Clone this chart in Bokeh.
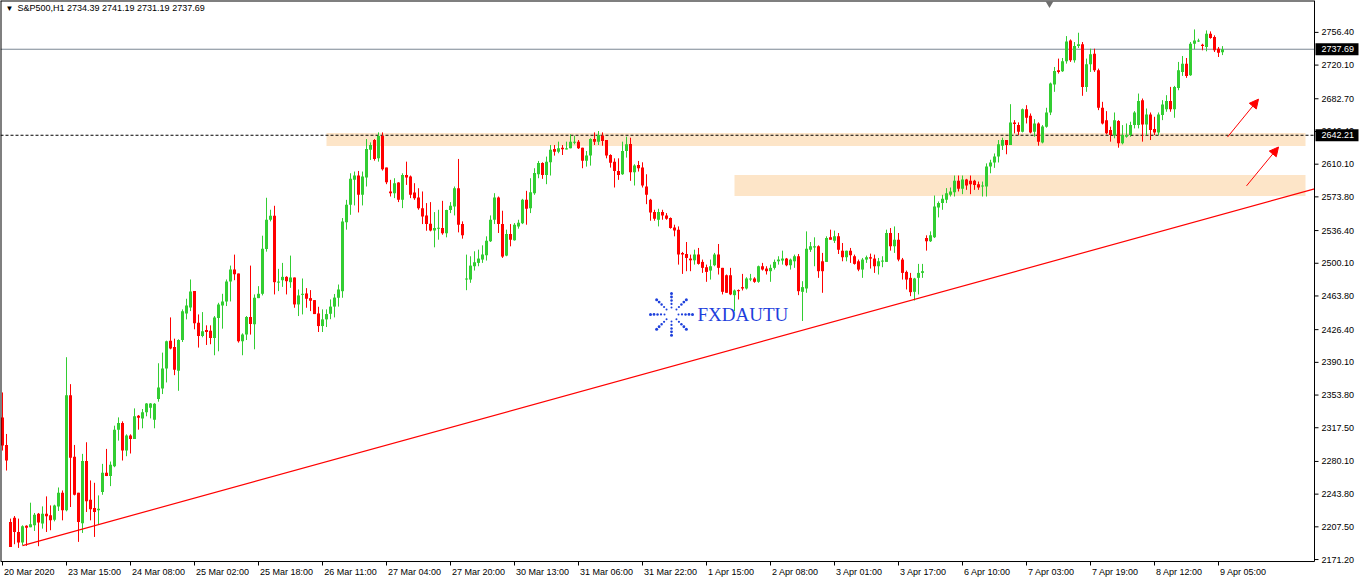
import math
import numpy as np
from bokeh.plotting import figure
from bokeh.models import (Range1d, FixedTicker, Label, Arrow, NormalHead, ColumnDataSource)
from bokeh.core.properties import value
from bokeh.embed import file_html
from bokeh.resources import INLINE

FONT = "Liberation Sans"

# ---------------- data (S&P500, H1) ----------------
opens = [
    2329.0, 2298.4, 2212.9, 2217.7, 2201.8, 2190.0, 2208.8, 2207.0, 2209.2, 2222.1,
    2211.1, 2222.1, 2220.3, 2215.5, 2230.2, 2245.3, 2225.8, 2353.7, 2285.2, 2245.3,
    2211.4, 2280.7, 2237.6, 2228.4, 2225.8, 2246.1, 2267.5, 2263.8, 2274.8, 2315.4,
    2322.8, 2292.2, 2308.8, 2305.1, 2330.9, 2327.9, 2334.6, 2339.7, 2326.5, 2349.3,
    2361.1, 2383.2, 2414.2, 2407.2, 2380.7, 2415.0, 2444.4, 2451.1, 2469.2, 2434.1,
    2419.4, 2426.0, 2425.3, 2417.2, 2439.3, 2453.3, 2457.7, 2479.8, 2493.1, 2488.7,
    2413.5, 2420.9, 2440.4, 2432.3, 2461.4, 2466.2, 2516.0, 2548.4, 2552.8, 2479.1,
    2481.3, 2485.0, 2479.1, 2484.3, 2454.4, 2465.1, 2466.6, 2461.4, 2459.2, 2444.4,
    2430.4, 2437.8, 2444.0, 2452.0, 2461.8, 2469.1, 2545.5, 2565.0, 2592.7, 2597.5,
    2576.1, 2595.2, 2626.2, 2636.9, 2616.6, 2641.3, 2606.3, 2579.8, 2577.9, 2589.7,
    2570.5, 2598.2, 2596.3, 2578.6, 2573.1, 2561.3, 2553.2, 2544.0, 2536.6, 2539.2,
    2539.2, 2533.3, 2559.1, 2563.2, 2583.4, 2543.6, 2482.0, 2482.0, 2496.8, 2500.5,
    2504.2, 2509.0, 2524.4, 2548.4, 2573.1, 2543.6, 2508.6, 2532.6, 2525.6, 2541.0,
    2544.4, 2570.5, 2561.3, 2577.9, 2598.9, 2611.5, 2598.2, 2612.2, 2627.0, 2624.0,
    2628.4, 2627.0, 2627.7, 2634.3, 2635.1, 2628.4, 2614.0, 2619.6, 2638.0, 2635.1,
    2641.7, 2636.9, 2620.3, 2612.9, 2602.6, 2598.9, 2624.7, 2632.5, 2601.1, 2609.3,
    2606.3, 2585.3, 2570.5, 2556.9, 2548.4, 2556.9, 2553.2, 2550.3, 2539.9, 2537.4,
    2511.6, 2510.4, 2505.3, 2503.4, 2509.7, 2501.6, 2495.7, 2492.0, 2497.9, 2509.7,
    2495.0, 2486.8, 2486.8, 2464.7, 2470.3, 2473.6, 2472.1, 2482.0, 2483.2, 2479.5,
    2496.8, 2494.2, 2491.3, 2495.0, 2502.3, 2503.1, 2505.3, 2497.9, 2502.3, 2507.9,
    2468.4, 2472.1, 2515.2, 2517.8, 2518.9, 2502.3, 2501.6, 2528.9, 2525.2, 2530.0,
    2514.1, 2506.8, 2514.1, 2507.9, 2502.3, 2493.1, 2504.2, 2506.8, 2505.3, 2496.8,
    2502.3, 2501.6, 2533.7, 2518.9, 2526.3, 2504.2, 2490.5, 2483.9, 2468.4, 2483.9,
    2489.4, 2528.1, 2524.5, 2528.9, 2562.1, 2566.9, 2570.5, 2576.1, 2579.0, 2591.6,
    2582.7, 2593.0, 2591.6, 2591.6, 2587.9, 2585.3, 2585.3, 2607.4, 2612.0, 2618.5,
    2630.6, 2636.9, 2631.4, 2656.5, 2653.5, 2646.1, 2671.2, 2663.8, 2646.1, 2655.3,
    2634.3, 2651.7, 2667.5, 2698.5, 2714.3, 2713.2, 2724.3, 2747.5, 2725.4, 2741.3,
    2743.1, 2695.9, 2721.0, 2732.8, 2714.3, 2672.7, 2659.0, 2648.0, 2642.4, 2657.9,
    2633.2, 2640.6, 2642.4, 2653.5, 2653.5, 2681.2, 2654.2, 2665.3, 2649.1, 2645.4,
    2664.6, 2671.2, 2680.1, 2671.2, 2694.8, 2712.5, 2721.7, 2708.8, 2743.8, 2747.2,
    2742.7, 2740.2, 2754.9, 2751.2, 2738.3, 2734.39,
]
highs = [
    2356.7, 2310.6, 2216.6, 2219.5, 2216.6, 2209.2, 2209.2, 2234.3, 2222.9, 2222.9,
    2230.2, 2241.3, 2231.3, 2232.1, 2251.2, 2247.9, 2395.8, 2365.9, 2298.4, 2245.3,
    2288.5, 2301.4, 2259.0, 2256.4, 2242.4, 2277.4, 2294.0, 2280.0, 2319.8, 2329.0,
    2324.6, 2310.2, 2310.2, 2339.0, 2331.6, 2338.3, 2344.9, 2344.9, 2344.9, 2389.1,
    2400.9, 2414.2, 2440.0, 2416.4, 2415.7, 2448.9, 2460.7, 2482.1, 2469.2, 2443.3,
    2445.9, 2431.2, 2431.2, 2441.5, 2456.2, 2466.2, 2482.1, 2497.5, 2509.7, 2488.7,
    2422.3, 2441.5, 2497.5, 2465.5, 2474.7, 2530.7, 2572.8, 2559.5, 2563.9, 2493.9,
    2500.5, 2485.7, 2508.6, 2484.3, 2471.0, 2483.2, 2472.5, 2470.3, 2459.2, 2451.8,
    2448.9, 2448.9, 2460.0, 2466.0, 2476.5, 2550.3, 2570.5, 2600.0, 2601.9, 2602.6,
    2601.9, 2638.0, 2634.3, 2638.0, 2645.4, 2645.4, 2606.3, 2592.7, 2594.5, 2590.1,
    2600.0, 2612.9, 2597.5, 2589.0, 2583.4, 2579.8, 2566.9, 2568.0, 2556.9, 2559.5,
    2569.4, 2559.5, 2568.0, 2585.3, 2615.9, 2546.6, 2509.7, 2507.9, 2513.4, 2515.2,
    2520.0, 2530.0, 2553.2, 2577.9, 2574.2, 2558.4, 2537.4, 2543.6, 2544.7, 2548.4,
    2571.6, 2580.5, 2594.5, 2605.6, 2613.7, 2612.2, 2618.5, 2631.4, 2631.4, 2635.1,
    2631.4, 2635.1, 2643.2, 2641.7, 2636.9, 2628.4, 2624.7, 2638.8, 2645.4, 2646.9,
    2645.4, 2636.9, 2621.1, 2616.6, 2616.6, 2635.1, 2640.6, 2639.5, 2610.0, 2613.7,
    2612.2, 2598.9, 2571.6, 2559.5, 2560.6, 2559.5, 2555.8, 2551.0, 2542.9, 2541.0,
    2512.7, 2523.7, 2509.7, 2515.2, 2517.1, 2504.2, 2498.6, 2504.2, 2511.6, 2521.5,
    2495.0, 2487.6, 2495.0, 2471.0, 2471.0, 2488.3, 2484.6, 2488.3, 2484.6, 2497.5,
    2500.5, 2496.8, 2498.6, 2504.2, 2507.9, 2514.1, 2506.0, 2505.3, 2509.7, 2510.4,
    2480.2, 2535.5, 2523.7, 2528.9, 2520.0, 2511.6, 2530.0, 2537.4, 2536.3, 2533.7,
    2522.6, 2514.1, 2517.1, 2509.7, 2504.2, 2506.0, 2508.6, 2510.8, 2509.7, 2506.0,
    2507.9, 2537.4, 2539.2, 2541.0, 2533.7, 2506.0, 2492.0, 2489.4, 2483.9, 2499.4,
    2499.4, 2531.1, 2535.5, 2575.3, 2568.7, 2576.1, 2583.5, 2584.2, 2597.5, 2597.5,
    2597.5, 2593.8, 2597.5, 2592.7, 2590.8, 2590.8, 2611.0, 2615.0, 2622.0, 2636.9,
    2639.5, 2636.9, 2676.7, 2659.0, 2656.5, 2671.9, 2675.6, 2666.4, 2660.1, 2656.5,
    2653.5, 2672.7, 2700.7, 2718.0, 2727.3, 2728.0, 2752.3, 2748.6, 2745.7, 2756.0,
    2745.7, 2727.3, 2738.3, 2738.3, 2716.2, 2679.3, 2669.0, 2651.7, 2667.5, 2659.0,
    2653.5, 2655.3, 2657.2, 2669.0, 2688.5, 2683.0, 2671.9, 2667.5, 2662.7, 2667.5,
    2681.2, 2686.7, 2695.9, 2697.0, 2723.6, 2730.2, 2728.0, 2745.7, 2759.7, 2749.4,
    2743.8, 2758.6, 2757.5, 2753.1, 2740.2, 2741.19,
]
lows = [
    2292.2, 2270.0, 2185.2, 2188.2, 2184.1, 2187.1, 2186.4, 2207.0, 2202.9, 2186.0,
    2205.5, 2201.8, 2203.7, 2213.6, 2225.1, 2214.7, 2224.7, 2229.5, 2242.4, 2190.8,
    2200.7, 2224.0, 2214.7, 2196.3, 2210.0, 2243.1, 2263.8, 2252.7, 2273.7, 2303.2,
    2281.1, 2285.9, 2288.9, 2305.1, 2315.4, 2316.9, 2330.2, 2327.9, 2316.9, 2346.4,
    2354.9, 2367.8, 2404.6, 2375.9, 2358.5, 2412.7, 2437.8, 2447.0, 2426.8, 2406.5,
    2417.9, 2409.4, 2410.2, 2398.0, 2402.4, 2427.5, 2452.6, 2457.7, 2481.3, 2412.0,
    2398.0, 2414.9, 2420.9, 2404.6, 2461.4, 2464.4, 2513.0, 2546.6, 2465.5, 2469.2,
    2473.9, 2465.5, 2472.8, 2450.7, 2441.5, 2443.3, 2450.7, 2447.0, 2443.7, 2423.8,
    2423.8, 2429.3, 2438.0, 2440.0, 2452.0, 2461.8, 2537.4, 2553.9, 2564.3, 2556.5,
    2564.3, 2585.3, 2614.8, 2614.0, 2612.9, 2603.0, 2587.9, 2574.2, 2572.4, 2568.0,
    2561.3, 2587.1, 2572.4, 2570.5, 2559.5, 2543.6, 2536.2, 2535.5, 2517.8, 2526.3,
    2531.8, 2528.9, 2555.8, 2553.2, 2534.4, 2527.4, 2470.2, 2478.4, 2492.0, 2496.8,
    2500.5, 2503.1, 2523.7, 2543.6, 2533.7, 2506.0, 2507.9, 2518.9, 2525.2, 2538.5,
    2543.6, 2542.9, 2555.8, 2576.1, 2594.5, 2593.8, 2587.9, 2597.5, 2619.6, 2622.2,
    2620.3, 2626.6, 2627.7, 2632.1, 2627.0, 2605.6, 2607.4, 2608.5, 2631.4, 2631.4,
    2630.6, 2616.6, 2606.3, 2584.2, 2592.7, 2598.2, 2617.4, 2591.6, 2586.4, 2601.9,
    2584.2, 2565.7, 2547.3, 2547.3, 2541.0, 2548.4, 2548.4, 2538.5, 2530.0, 2498.6,
    2488.3, 2491.3, 2491.3, 2498.6, 2498.6, 2489.4, 2479.5, 2482.0, 2496.8, 2487.6,
    2465.5, 2467.3, 2464.7, 2447.0, 2459.9, 2469.9, 2471.0, 2480.2, 2478.4, 2478.4,
    2492.0, 2487.6, 2479.5, 2493.1, 2498.6, 2498.6, 2496.8, 2493.1, 2495.0, 2464.7,
    2436.0, 2467.3, 2512.7, 2496.8, 2483.9, 2467.3, 2501.6, 2526.3, 2522.6, 2510.4,
    2502.3, 2502.3, 2500.5, 2498.6, 2491.3, 2483.9, 2500.5, 2494.2, 2489.4, 2487.6,
    2495.7, 2501.6, 2514.1, 2511.6, 2502.3, 2482.0, 2471.0, 2463.6, 2458.8, 2465.5,
    2483.9, 2514.1, 2523.7, 2528.1, 2551.0, 2559.5, 2566.9, 2574.2, 2574.2, 2579.8,
    2576.8, 2581.6, 2576.8, 2581.6, 2581.6, 2574.2, 2574.2, 2600.0, 2606.0, 2612.0,
    2625.9, 2621.1, 2631.4, 2644.3, 2642.4, 2645.4, 2655.3, 2644.3, 2640.6, 2630.6,
    2633.2, 2650.6, 2664.6, 2690.4, 2710.7, 2712.5, 2721.7, 2723.6, 2722.8, 2739.1,
    2686.0, 2690.4, 2712.5, 2712.5, 2670.1, 2654.2, 2643.2, 2635.1, 2638.8, 2628.4,
    2632.1, 2639.5, 2640.6, 2649.8, 2649.8, 2635.1, 2642.4, 2636.9, 2642.4, 2642.4,
    2659.0, 2668.3, 2668.3, 2661.6, 2692.2, 2708.1, 2705.9, 2708.1, 2737.6, 2745.7,
    2736.5, 2735.4, 2749.4, 2734.6, 2729.1, 2731.19,
]
closes = [
    2297.7, 2281.1, 2185.2, 2201.8, 2190.0, 2208.1, 2206.6, 2210.3, 2221.0, 2212.2,
    2222.1, 2219.2, 2214.7, 2231.3, 2245.3, 2225.8, 2353.7, 2284.1, 2243.1, 2212.9,
    2280.7, 2235.8, 2226.9, 2224.0, 2227.7, 2267.5, 2263.8, 2276.3, 2315.4, 2322.8,
    2292.2, 2308.8, 2305.1, 2330.2, 2328.7, 2334.6, 2344.5, 2344.5, 2344.2, 2362.2,
    2383.2, 2413.5, 2405.4, 2381.8, 2415.0, 2446.7, 2453.3, 2468.8, 2433.4, 2419.4,
    2424.5, 2423.8, 2417.2, 2440.0, 2454.4, 2457.7, 2479.8, 2493.1, 2488.0, 2413.5,
    2420.9, 2440.4, 2432.6, 2461.8, 2466.2, 2516.3, 2548.4, 2552.8, 2479.1, 2479.8,
    2485.0, 2480.2, 2484.3, 2454.4, 2464.4, 2466.2, 2460.7, 2458.5, 2443.7, 2430.4,
    2437.8, 2443.7, 2452.0, 2462.0, 2471.0, 2546.6, 2565.0, 2593.8, 2597.5, 2576.1,
    2596.3, 2627.0, 2631.4, 2615.9, 2641.3, 2604.5, 2590.1, 2577.9, 2589.0, 2570.5,
    2598.2, 2595.2, 2576.1, 2572.4, 2561.3, 2552.1, 2543.6, 2536.6, 2539.2, 2539.6,
    2533.3, 2559.1, 2563.9, 2583.4, 2542.9, 2531.1, 2483.2, 2497.5, 2501.2, 2505.3,
    2509.7, 2525.2, 2548.4, 2573.1, 2543.6, 2507.5, 2532.6, 2526.3, 2542.9, 2545.1,
    2570.5, 2560.6, 2579.0, 2600.4, 2611.5, 2598.2, 2612.9, 2626.2, 2624.0, 2627.7,
    2626.6, 2627.7, 2635.1, 2635.1, 2627.7, 2614.0, 2619.6, 2638.0, 2635.1, 2642.4,
    2635.8, 2619.6, 2611.8, 2602.6, 2598.2, 2624.7, 2632.1, 2601.1, 2608.5, 2605.6,
    2586.4, 2576.1, 2556.5, 2549.5, 2556.9, 2553.2, 2549.5, 2539.2, 2536.6, 2509.7,
    2509.7, 2506.0, 2503.4, 2509.7, 2499.4, 2495.0, 2490.5, 2496.8, 2509.7, 2495.0,
    2468.4, 2467.3, 2465.5, 2469.9, 2469.1, 2472.1, 2483.2, 2483.2, 2479.5, 2496.8,
    2493.1, 2491.3, 2495.0, 2501.6, 2504.2, 2505.3, 2497.9, 2504.2, 2507.9, 2469.1,
    2473.6, 2516.3, 2518.9, 2518.9, 2491.3, 2491.3, 2528.1, 2526.3, 2530.0, 2515.2,
    2506.8, 2514.1, 2509.0, 2499.4, 2493.1, 2504.2, 2506.8, 2505.3, 2496.8, 2502.3,
    2503.1, 2533.7, 2518.9, 2526.3, 2504.2, 2489.4, 2482.0, 2468.0, 2483.2, 2489.4,
    2491.3, 2524.5, 2531.1, 2563.2, 2566.9, 2571.7, 2577.9, 2579.8, 2591.6, 2582.7,
    2593.0, 2586.4, 2587.9, 2587.1, 2584.2, 2586.4, 2607.4, 2612.0, 2618.5, 2632.1,
    2636.9, 2631.4, 2656.5, 2654.6, 2646.1, 2671.2, 2661.6, 2645.4, 2655.3, 2635.1,
    2652.0, 2667.5, 2699.6, 2713.6, 2712.5, 2724.3, 2746.4, 2725.4, 2741.3, 2743.1,
    2695.9, 2721.0, 2732.0, 2714.3, 2672.7, 2655.3, 2644.3, 2642.4, 2659.0, 2633.2,
    2642.4, 2642.4, 2653.5, 2667.5, 2680.1, 2654.2, 2665.3, 2648.0, 2645.4, 2665.3,
    2676.4, 2680.1, 2671.2, 2695.9, 2714.3, 2721.7, 2708.1, 2743.8, 2747.5, 2747.5,
    2741.3, 2754.9, 2750.1, 2736.5, 2733.9, 2737.69,
]

x_tick_bars = [0, 16, 32, 48, 64, 80, 96, 112, 128, 144,
               160, 176, 192, 208, 224, 240, 256, 272, 288, 304]
x_tick_labels = ["20 Mar 2020", "23 Mar 15:00", "24 Mar 08:00", "25 Mar 02:00",
                 "25 Mar 18:00", "26 Mar 11:00", "27 Mar 04:00", "27 Mar 20:00",
                 "30 Mar 13:00", "31 Mar 06:00", "31 Mar 22:00", "1 Apr 15:00",
                 "2 Apr 08:00", "3 Apr 01:00", "3 Apr 17:00", "6 Apr 10:00",
                 "7 Apr 03:00", "7 Apr 19:00", "8 Apr 12:00", "9 Apr 05:00"]
y_ticks = [2171.20, 2207.50, 2243.80, 2280.10, 2317.50, 2353.80, 2390.10,
           2426.40, 2463.80, 2500.10, 2536.40, 2573.80, 2610.10, 2646.40,
           2682.70, 2720.10, 2756.40]

symbol_header = "S&P500,H1  2734.39 2741.19 2731.19 2737.69"
last_price = 2737.69
level_price = 2642.21
zone_left = [81.0, 183.0]
zone_right = [325.75, 325.75]
zone_bottom = [2630.3, 2574.9]
zone_top = [2644.6, 2598.2]
trend_x = [5.0, 328.0]
trend_y = [2186.7, 2582.6]
arrow_x0 = [306.25, 311.0]
arrow_y0 = [2640.2, 2586.0]
arrow_x1 = [314.0, 319.0]
arrow_y1 = [2682.3, 2629.2]
watermark_text = "FXDAUTU"
watermark_x = 173.75
watermark_y = 2443.3
logo_x = 167.25

# ---------------- layout ----------------
W, H = 1360, 579
CHART_PX = 1314            # width of the chart area (price scale strip to its right)
X_LO, X_CHART = -0.5, 328.0
PPB = CHART_PX / (X_CHART - X_LO)          # pixels per bar (= 4)
X_HI = X_LO + W / PPB                      # frame also covers the price-scale strip
Y_BORDER, Y_HI = 2169.0, 2791.8            # bottom / top edge of the chart box
PPY = 563.0 / (Y_HI - Y_BORDER)            # pixels per price unit
FRAME_H = 568.0                            # frame reaches a little below the chart box
Y_LO = Y_HI - FRAME_H / PPY
UP, DN = "#32CD32", "#FF0000"
FS = 9

p = figure(width=W, height=H, x_range=Range1d(X_LO, X_HI), y_range=Range1d(Y_LO, Y_HI),
           output_backend="svg", toolbar_location=None, y_axis_location=None,
           min_border_left=0, min_border_top=0, min_border_right=0, min_border_bottom=10)
p.grid.visible = False
p.outline_line_color = None
p.background_fill_color = "white"
p.border_fill_color = "white"

# x axis: labels left-aligned to their tick (MT4 style) -> centre shifted right
CHAR_EM = {" ": 0.278, ":": 0.278, "M": 0.833, "a": 0.556, "r": 0.333, "A": 0.667, "p": 0.556}
label_pos = []
for b, s in zip(x_tick_bars, x_tick_labels):
    wpx = sum(CHAR_EM.get(ch, 0.556) for ch in s) * FS
    label_pos.append(round(b + (wpx / 2 + 1.5) / PPB, 3))
xa = p.xaxis[0]
xa.ticker = FixedTicker(ticks=label_pos)
xa.major_label_overrides = {v: s for v, s in zip(label_pos, x_tick_labels)}
xa.axis_line_color = None
xa.major_tick_line_color = None
xa.minor_tick_line_color = None
xa.major_tick_out = 0
xa.major_tick_in = 0
xa.minor_tick_out = 0
xa.minor_tick_in = 0
xa.major_label_standoff = 0
xa.axis_label_standoff = 0
xa.major_label_text_font = FONT
xa.major_label_text_font_size = f"{FS}px"
xa.major_label_text_color = "black"

# support / resistance zones (background)
p.quad(left=zone_left, right=zone_right, bottom=zone_bottom, top=zone_top,
       fill_color="#FDE5C8", line_color=None)

# horizontal levels (chart area only)
p.segment(x0=[X_LO], y0=[level_price], x1=[X_CHART], y1=[level_price],
          line_color="black", line_dash="3 2", line_width=1)
p.segment(x0=[X_LO], y0=[last_price], x1=[X_CHART], y1=[last_price],
          line_color="#7A8793", line_width=1)

# candles
o = np.array(opens); h = np.array(highs); l = np.array(lows); c = np.array(closes)
body_top = np.maximum(o, c)
body_bot = np.minimum(o, c)
body_bot = np.where(body_top - body_bot < 1.2, body_top - 1.2, body_bot)
colors = [UP if cc >= oo else DN for oo, cc in zip(opens, closes)]
src = ColumnDataSource(dict(x=list(range(len(opens))), top=body_top, bottom=body_bot,
                            high=np.maximum(h, body_top), low=np.minimum(l, body_bot),
                            color=colors))
p.segment(x0="x", y0="low", x1="x", y1="high", line_color="color", line_width=1, source=src)
p.vbar(x="x", width=0.75, top="top", bottom="bottom", fill_color="color",
       line_color=None, source=src)

# trend line
p.line(trend_x, trend_y, line_color="red", line_width=1.2)

# chart border: left and top edges (half clipped, so 2px), bottom edge, price-scale edge
p.segment(x0=[X_LO, X_LO], y0=[Y_BORDER, Y_HI], x1=[X_LO, X_CHART], y1=[Y_HI, Y_HI],
          line_color="black", line_width=2)
p.segment(x0=[X_LO, X_CHART], y0=[Y_BORDER, Y_BORDER], x1=[X_CHART, X_CHART],
          y1=[Y_BORDER, Y_HI], line_color="black", line_width=1)

# time-scale tick marks
n_x = len(x_tick_bars)
p.segment(x0=x_tick_bars, y0=[Y_BORDER] * n_x, x1=x_tick_bars, y1=[Y_BORDER - 4 / PPY] * n_x,
          line_color="black", line_width=1)

# price scale: ticks + labels
n_t = len(y_ticks)
p.segment(x0=[X_CHART] * n_t, y0=y_ticks, x1=[X_CHART + 4 / PPB] * n_t, y1=y_ticks,
          line_color="black", line_width=1)
p.text(x=[X_CHART] * n_t, y=y_ticks, text=[f"{t:.2f}" for t in y_ticks], x_offset=7,
       text_font=value(FONT), text_font_size=f"{FS}px", text_color="black",
       text_baseline="middle", text_align="left")

# price boxes
box_prices = [last_price, level_price]
p.quad(left=[X_CHART + 1 / PPB] * 2, right=[X_CHART + 44 / PPB] * 2,
       bottom=[v - 6 / PPY for v in box_prices], top=[v + 6 / PPY for v in box_prices],
       fill_color="black", line_color=None)
p.text(x=[X_CHART] * 2, y=box_prices, text=[f"{v:.2f}" for v in box_prices], x_offset=7,
       text_font=value(FONT), text_font_size=f"{FS}px", text_color="white",
       text_baseline="middle", text_align="left")

# arrows
for x0, y0, x1, y1 in zip(arrow_x0, arrow_y0, arrow_x1, arrow_y1):
    p.add_layout(Arrow(end=NormalHead(size=9, fill_color="red", line_color="red", line_width=1),
                       x_start=x0, y_start=y0, x_end=x1, y_end=y1,
                       line_color="red", line_width=1))

# watermark logo (dotted starburst) + text
dx, dy, ds = [], [], []
for k in range(8):
    ang = k * math.pi / 4
    for r, s in zip([7, 10.5, 14, 17.5, 21], [2.0, 2.2, 2.5, 2.8, 3.0]):
        dx.append(logo_x + r * math.cos(ang) / PPB)
        dy.append(watermark_y + r * math.sin(ang) / PPY)
        ds.append(s)
p.scatter(dx, dy, size=ds, marker="circle", fill_color="#1E40DC", line_color=None)
p.add_layout(Label(x=watermark_x, y=watermark_y, text=watermark_text,
                   text_font="Liberation Serif", text_font_size="19px",
                   text_color="#1E40DC", text_baseline="middle", text_align="left"))

# chart-shift marker at top
p.scatter([261.75], [Y_HI - 3.3], marker="inverted_triangle", size=8,
          fill_color="#6E6E6E", line_color=None)

# header
p.add_layout(Label(x=X_LO, y=Y_HI, x_offset=5, y_offset=-3, text="\u25bc",
                   text_font=FONT, text_font_size="8px", text_color="black",
                   text_baseline="top", text_align="left"))
p.add_layout(Label(x=X_LO, y=Y_HI, x_offset=17, y_offset=-2, text=symbol_header,
                   text_font=FONT, text_font_size=f"{FS}px", text_color="black",
                   text_baseline="top", text_align="left"))

open("out.html", "w").write(file_html(p, INLINE))
